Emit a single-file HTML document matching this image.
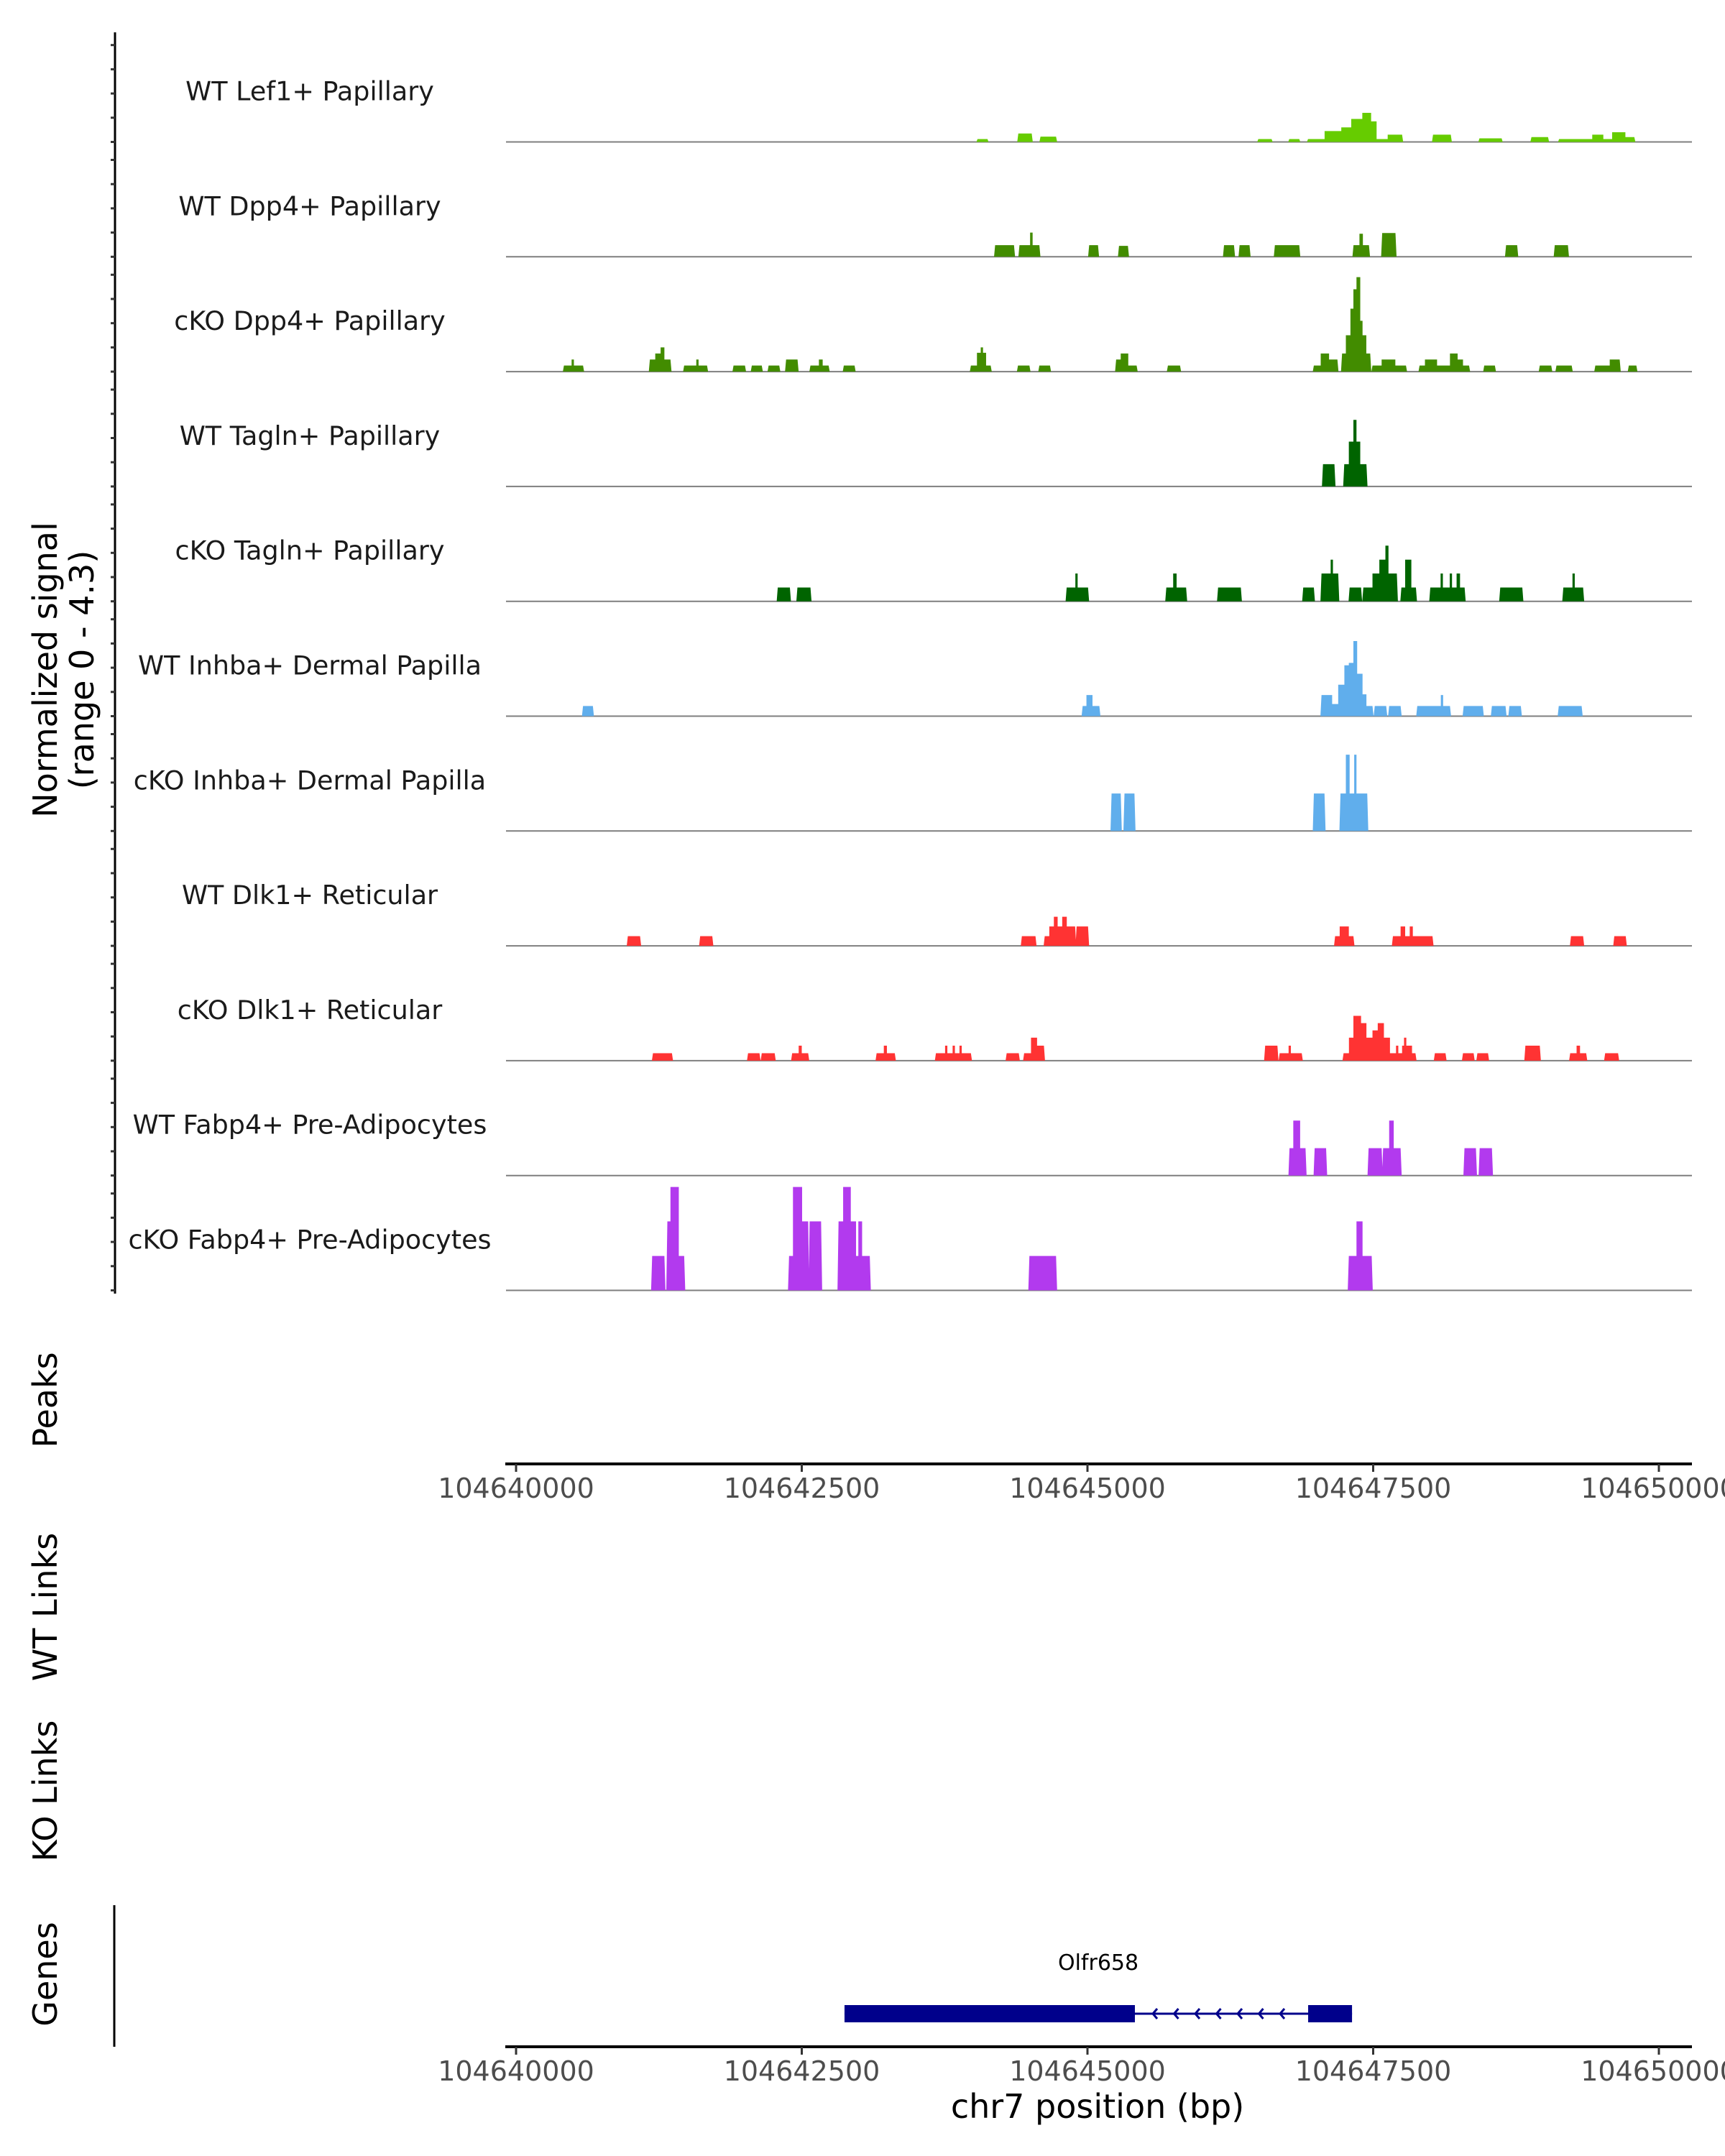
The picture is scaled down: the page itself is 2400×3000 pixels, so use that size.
<!DOCTYPE html>
<html><head><meta charset="utf-8"><style>
html,body{margin:0;padding:0;background:#fff;}
svg{display:block;font-family:"DejaVu Sans","Liberation Sans",sans-serif;}
</style></head><body>
<svg id="chart" width="2400" height="3000" viewBox="0 0 2400 3000" xmlns="http://www.w3.org/2000/svg">
<g id="tracks"></g>
<g id="axes"></g>
</svg>
<script>
const START = 104640000;
const trackNames = ["WT Lef1+ Papillary","WT Dpp4+ Papillary","cKO Dpp4+ Papillary","WT Tagln+ Papillary","cKO Tagln+ Papillary","WT Inhba+ Dermal Papilla","cKO Inhba+ Dermal Papilla","WT Dlk1+ Reticular","cKO Dlk1+ Reticular","WT Fabp4+ Pre-Adipocytes","cKO Fabp4+ Pre-Adipocytes"];
const trackColors = ["#66cc00","#428c00","#428c00","#006400","#006400","#60aeec","#60aeec","#ff3333","#ff3333","#b23aee","#b23aee"];
// segments: [startOffsetBp, endOffsetBp, value]
const lef1WT = [[4038,4125,0.12],[4395,4512,0.35],[4589,4725,0.22],[6495,6611,0.12],[6766,6853,0.12],[6930,7075,0.12],[7075,7221,0.45],[7221,7308,0.6],[7308,7405,0.95],[7405,7482,1.2],[7482,7530,0.85],[7530,7627,0.12],[7627,7753,0.3],[8024,8179,0.3],[8430,8624,0.15],[8885,9030,0.2],[9127,9417,0.12],[9417,9514,0.3],[9514,9591,0.12],[9591,9707,0.4],[9707,9785,0.2]];
const dpp4WT = [[4192,4357,0.48],[4405,4498,0.48],[4498,4520,1.0],[4520,4579,0.48],[5015,5092,0.48],[5276,5354,0.45],[6195,6282,0.48],[6331,6418,0.48],[6640,6853,0.48],[7328,7380,0.48],[7380,7410,0.95],[7410,7463,0.48],[7579,7695,0.98],[8663,8760,0.48],[9089,9204,0.48]];
const dpp4KO = [[419,486,0.25],[486,506,0.5],[506,586,0.25],[1171,1218,0.5],[1218,1265,0.75],[1265,1298,1.0],[1298,1351,0.5],[1471,1577,0.25],[1577,1597,0.5],[1597,1671,0.25],[1903,2003,0.25],[2063,2150,0.25],[2210,2303,0.25],[2363,2463,0.5],[2576,2650,0.25],[2650,2683,0.5],[2683,2735,0.25],[2868,2962,0.25],[3980,4033,0.25],[4033,4066,0.78],[4066,4086,1.0],[4086,4113,0.78],[4113,4153,0.25],[4392,4492,0.25],[4579,4672,0.25],[5251,5291,0.5],[5291,5357,0.75],[5357,5430,0.25],[5704,5810,0.25],[6981,7041,0.25],[7041,7114,0.75],[7114,7187,0.5],[7228,7261,0.75],[7261,7301,1.5],[7301,7327,2.6],[7327,7354,3.4],[7354,7387,3.9],[7387,7407,2.1],[7407,7440,1.5],[7440,7474,0.75],[7494,7574,0.25],[7574,7694,0.5],[7694,7787,0.25],[7906,7953,0.25],[7953,8059,0.5],[8059,8172,0.25],[8172,8239,0.75],[8239,8286,0.5],[8286,8339,0.25],[8472,8565,0.25],[8958,9058,0.25],[9104,9237,0.25],[9444,9570,0.25],[9570,9657,0.5],[9737,9803,0.25]];
const taglnWT = [[7061,7161,0.92],[7247,7287,0.92],[7287,7327,1.85],[7327,7354,2.75],[7354,7387,1.85],[7387,7441,0.92]];
const taglnKO = [[2290,2396,0.57],[2462,2576,0.57],[4818,4894,0.57],[4894,4914,1.15],[4914,5005,0.57],[5690,5750,0.57],[5750,5780,1.15],[5780,5863,0.57],[6143,6342,0.57],[6888,6981,0.57],[7048,7128,1.15],[7128,7148,1.72],[7148,7194,1.15],[7294,7394,0.57],[7414,7494,0.57],[7494,7554,1.15],[7554,7607,1.72],[7607,7634,2.3],[7634,7707,1.15],[7747,7780,0.57],[7780,7834,1.72],[7834,7874,0.57],[8000,8090,0.57],[8090,8110,1.15],[8110,8170,0.57],[8170,8190,1.15],[8190,8230,0.57],[8230,8260,1.15],[8260,8300,0.57],[8612,8805,0.57],[9164,9244,0.57],[9244,9264,1.15],[9264,9337,0.57]];
const inhbaWT = [[586,672,0.42],[4958,4991,0.42],[4991,5044,0.87],[5044,5104,0.42],[7048,7141,0.87],[7141,7194,0.5],[7194,7248,1.3],[7248,7287,2.1],[7287,7327,2.2],[7327,7360,3.1],[7360,7407,1.75],[7407,7441,0.9],[7441,7494,0.42],[7514,7614,0.42],[7640,7740,0.42],[7886,8092,0.42],[8092,8112,0.87],[8112,8172,0.42],[8292,8459,0.42],[8539,8658,0.42],[8692,8792,0.42],[9124,9324,0.42]];
const inhbaKO = [[5211,5291,1.55],[5324,5411,1.55],[6981,7074,1.55],[7214,7261,1.55],[7261,7294,3.15],[7294,7334,1.55],[7334,7354,3.15],[7354,7448,1.55]];
const dlk1WT = [[978,1085,0.4],[1611,1717,0.4],[4426,4545,0.4],[4626,4666,0.4],[4666,4706,0.8],[4706,4739,1.2],[4739,4779,0.8],[4779,4819,1.2],[4819,4892,0.8],[4905,5005,0.8],[7167,7207,0.4],[7207,7287,0.8],[7287,7327,0.4],[7673,7740,0.4],[7740,7780,0.8],[7780,7820,0.4],[7820,7847,0.8],[7847,8019,0.4],[9231,9337,0.4],[9610,9710,0.4]];
const dlk1KO = [[1198,1364,0.31],[2030,2130,0.31],[2150,2263,0.31],[2416,2473,0.31],[2473,2500,0.62],[2500,2556,0.31],[3155,3218,0.31],[3218,3245,0.62],[3245,3314,0.31],[3674,3754,0.31],[3754,3774,0.62],[3774,3820,0.31],[3820,3840,0.62],[3840,3880,0.31],[3880,3900,0.62],[3900,3980,0.31],[4293,4399,0.31],[4446,4506,0.31],[4506,4559,0.95],[4559,4619,0.62],[6555,6662,0.62],[6682,6760,0.31],[6760,6780,0.62],[6780,6875,0.31],[7241,7288,0.31],[7288,7327,0.95],[7327,7394,1.85],[7394,7441,1.55],[7441,7494,0.95],[7494,7540,1.25],[7540,7594,1.55],[7594,7647,0.95],[7647,7700,0.31],[7700,7720,0.62],[7720,7753,0.31],[7753,7770,0.62],[7770,7790,0.95],[7790,7840,0.62],[7840,7870,0.31],[8040,8133,0.31],[8286,8379,0.31],[8412,8505,0.31],[8832,8958,0.62],[9224,9280,0.31],[9280,9310,0.62],[9310,9364,0.31],[9530,9643,0.31]];
const fabp4WT = [[6768,6801,1.13],[6801,6861,2.27],[6861,6908,1.13],[6988,7088,1.13],[7460,7574,1.13],[7587,7640,1.13],[7640,7680,2.27],[7680,7740,1.13],[8299,8399,1.13],[8432,8539,1.13]];
const fabp4KO = [[1191,1298,1.42],[1324,1351,2.85],[1351,1424,4.27],[1424,1471,1.42],[2389,2423,1.42],[2423,2503,4.27],[2503,2556,2.85],[2569,2669,2.85],[2822,2862,2.85],[2862,2929,4.27],[2929,2975,2.85],[2975,2995,1.42],[2995,3028,2.85],[3028,3095,1.42],[4492,4725,1.42],[7287,7354,1.42],[7354,7407,2.85],[7407,7487,1.42]];
const trackData = [lef1WT,dpp4WT,dpp4KO,taglnWT,taglnKO,inhbaWT,inhbaKO,dlk1WT,dlk1KO,fabp4WT,fabp4KO];
const xTicks = [104640000,104642500,104645000,104647500,104650000];
const yTicks = [0,1,2,3,4];
const geneName = "Olfr658";
const geneExons = [[104642874,104645415],[104646931,104647315]];
const geneSpan = [104642874,104647315];

const NS = "http://www.w3.org/2000/svg";
const X0 = 718, PXBP = 397.5/2500;
function xs(bp){ return X0 + (bp - START) * PXBP; }
function xo(off){ return X0 + off * PXBP; }
const BASE0 = 197.5, TRACK_STEP = 159.8, PXV = 33.7;
function base(i){ return BASE0 + i*TRACK_STEP; }
function ys(i, v){ return base(i) - v*PXV; }
function mk(tag, attrs, parent){
  const e = document.createElementNS(NS, tag);
  for (const k in attrs) e.setAttribute(k, attrs[k]);
  parent.appendChild(e); return e;
}
const tracks = document.getElementById('tracks');
const axes = document.getElementById('axes');

const yl = mk('line',{x1:160,y1:45,x2:160,y2:1800,stroke:'#000','stroke-width':3},axes);



trackData.forEach((segs, i) => {
  const g = mk('g',{},tracks);
  
  
  const b = base(i);
  const bl = mk('line',{x1:704,y1:b,x2:2354,y2:b,stroke:'#7f7f7f','stroke-width':2},g);
  
  
  // group contiguous segments into single area shapes
  let d = '', prevEnd = null;
  segs.forEach((s, k) => {
    const x1 = xo(s[0]), x2 = xo(s[1]), y = ys(i, s[2]);
    if (prevEnd === null || s[0] - prevEnd > 5) {
      if (prevEnd !== null) d += `L${xo(prevEnd)+1.5},${b} Z `;
      d += `M${x1-1.5},${b} L${x1},${y} `;
    } else {
      d += `L${x1},${y} `;
    }
    d += `L${x2},${y} `;
    prevEnd = s[1];
  });
  if (prevEnd !== null) d += `L${xo(prevEnd)+1.5},${b} Z`;
  const p = mk('path',{d:d,fill:trackColors[i]},g);
  
  
  const t = mk('text',{x:431,y:b-58,'text-anchor':'middle','font-size':36.5,fill:'#1a1a1a'},g);
  t.textContent = trackNames[i];
  
  
  yTicks.forEach(v => {
    const tk = mk('line',{x1:154,y1:ys(i,v),x2:160,y2:ys(i,v),stroke:'#333','stroke-width':3},axes);
    
    
  });
});

function textEl(x,y,str,size,attrs,name){
  const t = mk('text',Object.assign({x:x,y:y,'font-size':size,fill:'#000'},attrs||{}),axes);
  t.textContent = str;
  
  
  return t;
}
const yt = textEl(0,0,'',46,{transform:'translate(79,932) rotate(-90)','text-anchor':'middle'},'y-axis-title');
const ts1 = mk('tspan',{x:0,y:0},yt); ts1.textContent='Normalized signal';
const ts2 = mk('tspan',{x:0,y:51},yt); ts2.textContent='(range 0 - 4.3)';
textEl(0,0,'Peaks',46,{transform:'translate(79,1948) rotate(-90)','text-anchor':'middle'},'peaks-label');
textEl(0,0,'WT Links',46,{transform:'translate(79,2236) rotate(-90)','text-anchor':'middle'},'wt-links-label');
textEl(0,0,'KO Links',46,{transform:'translate(79,2492) rotate(-90)','text-anchor':'middle'},'ko-links-label');
textEl(0,0,'Genes',46,{transform:'translate(79,2747) rotate(-90)','text-anchor':'middle'},'genes-label');

[[2037,2084,'peaks-x-axis'],[2848,2895,'genes-x-axis']].forEach(a => {
  const l = mk('line',{x1:703,y1:a[0],x2:2354,y2:a[0],stroke:'#000','stroke-width':4},axes);
  
  
  xTicks.forEach(v => {
    const tk = mk('line',{x1:xs(v),y1:a[0],x2:xs(v),y2:a[0]+11,stroke:'#333','stroke-width':3},axes);
    
    
    textEl(xs(v),a[1],String(v),38,{'text-anchor':'middle',fill:'#4d4d4d'},'x-tick-label');
  });
});
textEl(1527,2947,'chr7 position (bp)',46,{'text-anchor':'middle'},'x-axis-title');

const gl = mk('line',{x1:159,y1:2651,x2:159,y2:2848,stroke:'#000','stroke-width':3},axes);


const gy = 2802;
const intron = mk('line',{x1:xs(geneSpan[0]),y1:gy,x2:xs(geneSpan[1]),y2:gy,stroke:'#00008b','stroke-width':3},axes);


geneExons.forEach(e => {
  const r = mk('rect',{x:xs(e[0]),y:gy-12,width:xs(e[1])-xs(e[0]),height:24,fill:'#00008b'},axes);
  
  
});
for (let cx = 1604; cx < 1810; cx += 29.5){
  const c = mk('polyline',{points:`${cx+6},${gy-7} ${cx},${gy} ${cx+6},${gy+7}`,fill:'none',stroke:'#00008b','stroke-width':3},axes);
  
  
}
textEl((xs(geneSpan[0])+xs(geneSpan[1]))/2,2741,geneName,30,{'text-anchor':'middle'},'gene-label');
</script>
</body></html>
